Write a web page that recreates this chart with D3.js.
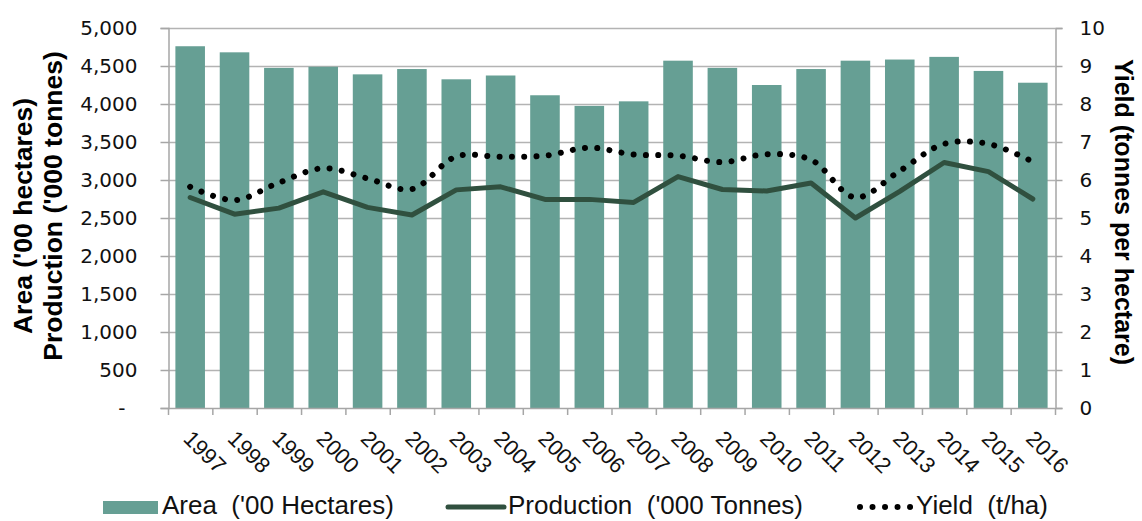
<!DOCTYPE html>
<html>
<head>
<meta charset="utf-8">
<script src="https://cdn.jsdelivr.net/npm/d3@7"></script>
<style>
  html, body { margin: 0; padding: 0; background: #ffffff; }
  svg { display: block; }
  text { white-space: pre; }
</style>
</head>
<body>
<script>
const years = ["1997","1998","1999","2000","2001","2002","2003","2004","2005","2006","2007","2008","2009","2010","2011","2012","2013","2014","2015","2016"];
const area = [4760, 4680, 4475, 4490, 4390, 4460, 4325, 4375, 4115, 3975, 4035, 4570, 4475, 4250, 4460, 4570, 4585, 4620, 4435, 4280];
const production = [2770, 2550, 2630, 2845, 2640, 2540, 2870, 2910, 2745, 2745, 2705, 3045, 2875, 2855, 2960, 2500, 2850, 3230, 3110, 2750];
const yieldTha = [5.82, 5.47, 5.93, 6.31, 6.04, 5.76, 6.62, 6.61, 6.64, 6.85, 6.67, 6.64, 6.47, 6.68, 6.53, 5.54, 6.24, 6.95, 6.95, 6.48];
const leftTicks = [0, 500, 1000, 1500, 2000, 2500, 3000, 3500, 4000, 4500, 5000];
const rightTicks = [0, 1, 2, 3, 4, 5, 6, 7, 8, 9, 10];
const legendLabels = ["Area  ('00 Hectares)", "Production  ('000 Tonnes)", "Yield  (t/ha)"];
const leftTitle = ["Area ('00 hectares)", "Production ('000 tonnes)"];
const rightTitle = "Yield (tonnes per hectare)";

const W = 1142, H = 521;
const plot = { left: 168, right: 1055, top: 28, bottom: 408 };
const barColor = "#669f94";
const lineColor = "#30503f";
const gridColor = "#b3b3b3";
const axisColor = "#a6a6a6";

const svg = d3.select("body").append("svg").attr("width", W).attr("height", H);

const x = d3.scaleBand().domain(years).range([plot.left, plot.right])
  .paddingInner(1/3).paddingOuter(1/6);
const yL = d3.scaleLinear().domain([0, 5000]).range([plot.bottom, plot.top]);
const yR = d3.scaleLinear().domain([0, 10]).range([plot.bottom, plot.top]);

// gridlines
svg.append("g").selectAll("line").data(leftTicks.filter(d => d > 0)).join("line")
  .attr("x1", plot.left).attr("x2", plot.right)
  .attr("y1", d => yL(d) + 0.5).attr("y2", d => yL(d) + 0.5)
  .attr("stroke", gridColor).attr("stroke-width", 1.5);

// bars
svg.append("g").selectAll("rect").data(years).join("rect")
  .attr("x", d => x(d)).attr("width", x.bandwidth())
  .attr("y", (d, i) => yL(area[i])).attr("height", (d, i) => yL(0) - yL(area[i]))
  .attr("fill", barColor);

// left axis
const fmtL = d => d === 0 ? "-" : d3.format(",")(d);
const gL = svg.append("g").attr("transform", `translate(${plot.left + 0.5},0)`)
  .call(d3.axisLeft(yL).tickValues(leftTicks).tickFormat(fmtL).tickSize(8).tickPadding(23));
gL.select(".domain").attr("stroke", axisColor).attr("stroke-width", 1.5);
gL.selectAll(".tick line").attr("stroke", axisColor).attr("stroke-width", 1.5);
gL.selectAll(".tick text").attr("font-family", "DejaVu Sans").attr("font-size", 20).attr("fill", "#111");
gL.selectAll(".tick text").filter(d => d === 0).attr("dx", -12);

// right axis
const gR = svg.append("g").attr("transform", `translate(${plot.right + 0.5},0)`)
  .call(d3.axisRight(yR).tickValues(rightTicks).tickFormat(d3.format("d")).tickSize(7).tickPadding(17));
gR.select(".domain").attr("stroke", axisColor).attr("stroke-width", 1.5);
gR.selectAll(".tick line").attr("stroke", axisColor).attr("stroke-width", 1.5);
gR.selectAll(".tick text").attr("font-family", "DejaVu Sans").attr("font-size", 20).attr("fill", "#111");

// bottom axis line + category ticks
const bounds = years.map(d => x(d) - x.step() * x.paddingInner() / 2);
bounds.push(plot.right);
svg.append("line").attr("x1", plot.left).attr("x2", plot.right)
  .attr("y1", plot.bottom + 0.5).attr("y2", plot.bottom + 0.5)
  .attr("stroke", axisColor).attr("stroke-width", 1.5);
svg.append("g").selectAll("line").data(bounds).join("line")
  .attr("x1", d => d + 0.5).attr("x2", d => d + 0.5)
  .attr("y1", plot.bottom).attr("y2", plot.bottom + 7)
  .attr("stroke", axisColor).attr("stroke-width", 1.5);

// x labels (rotated)
svg.append("g").selectAll("text").data(years).join("text")
  .attr("transform", d => `translate(${x(d) + x.bandwidth() / 2 - 8},440) rotate(45)`)
  .attr("font-family", "Liberation Sans, Arial, sans-serif").attr("font-size", 22)
  .attr("fill", "#111").text(d => d);

// production line
const cx = (d, i) => x(years[i]) + x.bandwidth() / 2;
svg.append("path").datum(production)
  .attr("d", d3.line().x(cx).y(d => yL(d)))
  .attr("fill", "none").attr("stroke", lineColor).attr("stroke-width", 5)
  .attr("stroke-linejoin", "round").attr("stroke-linecap", "round");

// yield line (smoothed, round dots)
svg.append("path").datum(yieldTha)
  .attr("d", d3.line().x(cx).y(d => yR(d)).curve(d3.curveCatmullRom.alpha(0.5)))
  .attr("fill", "none").attr("stroke", "#000").attr("stroke-width", 6)
  .attr("stroke-dasharray", "0.01 12.3").attr("stroke-linecap", "round");

// axis titles
const tL = svg.append("g").attr("font-family", "Liberation Sans, Arial, sans-serif")
  .attr("font-weight", "bold").attr("font-size", 26.5).attr("fill", "#000");
tL.append("text").attr("transform", "translate(32,216) rotate(-90)").attr("text-anchor", "middle").text(leftTitle[0]);
tL.append("text").attr("transform", "translate(62,206) rotate(-90)").attr("text-anchor", "middle").text(leftTitle[1]);
svg.append("text").attr("transform", "translate(1115,212) rotate(90)")
  .attr("text-anchor", "middle").attr("font-family", "Liberation Sans, Arial, sans-serif")
  .attr("font-weight", "bold").attr("font-size", 25).attr("fill", "#000").text(rightTitle);

// legend
const lg = svg.append("g").attr("font-family", "Liberation Sans, Arial, sans-serif")
  .attr("font-size", 26).attr("fill", "#111");
lg.append("rect").attr("x", 103).attr("y", 501).attr("width", 55).attr("height", 13).attr("fill", barColor);
lg.append("text").attr("x", 162).attr("y", 514).text(legendLabels[0]);
lg.append("line").attr("x1", 448).attr("x2", 504).attr("y1", 507).attr("y2", 507)
  .attr("stroke", lineColor).attr("stroke-width", 5).attr("stroke-linecap", "round");
lg.append("text").attr("x", 508).attr("y", 514).text(legendLabels[1]);
lg.append("line").attr("x1", 860).attr("x2", 911).attr("y1", 507).attr("y2", 507)
  .attr("stroke", "#000").attr("stroke-width", 6).attr("stroke-dasharray", "0.01 12.5").attr("stroke-linecap", "round");
lg.append("text").attr("x", 916).attr("y", 514).text(legendLabels[2]);
</script>
</body>
</html>
